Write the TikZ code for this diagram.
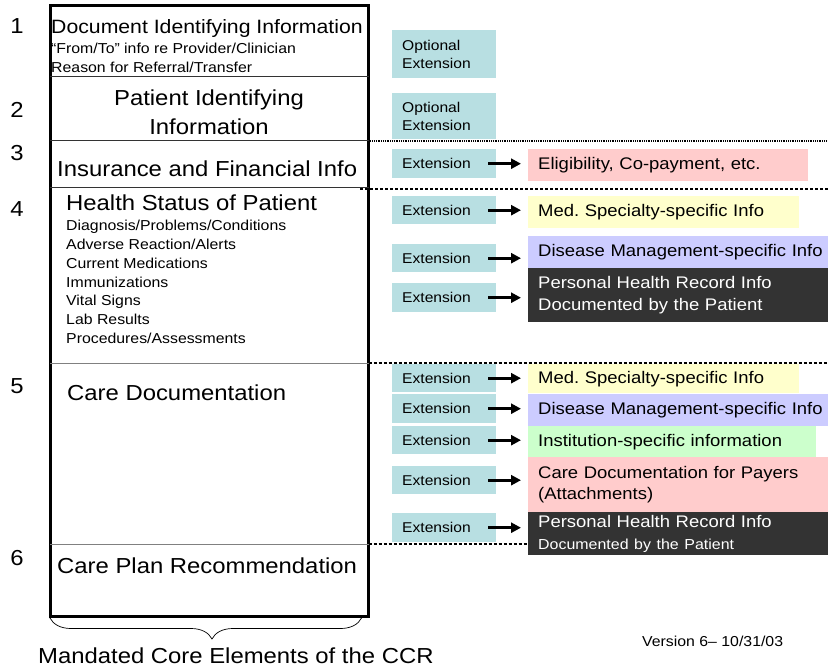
\documentclass[tikz,border=0pt]{standalone}
\usepackage{fontspec}
\setmainfont[FakeStretch=1.1]{Liberation Sans}
\usetikzlibrary{arrows.meta,decorations.pathreplacing}

\definecolor{extteal}{RGB}{184,223,226}
\definecolor{boxpink}{RGB}{255,204,204}
\definecolor{boxyellow}{RGB}{255,255,204}
\definecolor{boxpurple}{RGB}{204,204,255}
\definecolor{boxgreen}{RGB}{204,255,204}
\definecolor{boxdark}{RGB}{51,51,51}

\newcommand\fBig{\fontsize{21.7}{26}\selectfont}
\newcommand\fHead{\fontsize{19.3}{23}\selectfont}
\newcommand\fSmall{\fontsize{14.4}{18.8}\selectfont}
\newcommand\fBox{\fontsize{16.8}{21.5}\selectfont}
\newcommand\fBoxSmall{\fontsize{14.5}{19}\selectfont}
\newcommand\fExt{\fontsize{14.2}{18.5}\selectfont}

\tikzset{
  txt/.style={inner sep=0pt, anchor=base west},
  numlabel/.style={inner sep=0pt, anchor=base, font=\fBig},
  extbox/.style={fill=extteal, text width=84pt, inner xsep=10pt, inner ysep=0pt,
    anchor=north west, align=left, font=\fExt},
  infobox/.style={anchor=north west, inner xsep=10pt, inner ysep=0pt,
    align=left, font=\fBox},
  darkbox/.style={infobox, fill=boxdark, text=white},
  linkarrow/.style={line width=3pt, shorten >=7pt,
    -{Triangle[length=10pt,width=10pt]}},
  divider/.style={line width=1pt, black!80},
  softdivider/.style={line width=1pt, black!50},
  sepdash/.style={line width=1.1pt, dash pattern=on 3pt off 2pt},
  sepdot/.style={line width=1.1pt, dash pattern=on 1pt off 0.8pt},
}

\begin{document}
\begin{tikzpicture}[x=1pt,y=-1pt]
\useasboundingbox (0,0) rectangle (828,666);

% core element column
\node[draw, line width=3pt, minimum width=318.5pt, minimum height=610pt,
      anchor=north west, inner sep=0pt, outer sep=0pt] (core) at (50,6) {};
\draw[divider] (core.west |- 0,77) -- (core.east |- 0,77);
\draw[divider] (core.west |- 0,141) -- (core.east |- 0,141);
\draw[divider] (core.west |- 0,188) -- (core.east |- 0,188);
\draw[softdivider] (core.west |- 0,363) -- (core.east |- 0,363);
\draw[softdivider] (core.west |- 0,544) -- (core.east |- 0,544);

% section numbers
\node[numlabel] (n1) at (17,33.3) {1};
\node[numlabel] (n2) at (17,118) {2};
\node[numlabel] (n3) at (17,161) {3};
\node[numlabel] (n4) at (17,216.7) {4};
\node[numlabel] (n5) at (17,393) {5};
\node[numlabel] (n6) at (17,565) {6};

% section texts
\node[txt, font=\fHead] (doc) at (51,33.3) {Document Identifying Information};
\node[txt, font=\fSmall] (doca) at (51,53.3) {“From/To” info re Provider/Clinician};
\node[txt, font=\fSmall] (docb) at (51,72.7) {Reason for Referral/Transfer};

\node[inner sep=0pt, anchor=base, font=\fBig] (pat1) at (209,106) {Patient Identifying};
\node[inner sep=0pt, anchor=base, font=\fBig] (pat2) at (209,135) {Information};

\node[txt, font=\fBig] (ins) at (57,176.7) {Insurance and Financial Info};

\node[txt, font=\fBig] (hs) at (66,210.7) {Health Status of Patient};
\foreach \t [count=\i from 0] in {Diagnosis/Problems/Conditions,
    Adverse Reaction/Alerts, Current Medications, Immunizations,
    Vital Signs, Lab Results, Procedures/Assessments}
  \node[txt, font=\fSmall] (hs\i) at (66,230.6+18.83*\i) {\t};

\node[txt, font=\fBig] (cd) at (67,400) {Care Documentation};
\node[txt, font=\fBig] (cp) at (57,573) {Care Plan Recommendation};

% brace and caption
\draw[decorate, decoration={brace, mirror, amplitude=21pt, aspect=0.52},
      line width=0.7pt] ([yshift=-2pt]core.south west) -- ([xshift=-7pt,yshift=-2pt]core.south east);
\node[txt, font=\fBig] (cap) at (38,663) {Mandated Core Elements of the CCR};
\node[txt, font=\fSmall] (ver) at (642,646) {Version 6– 10/31/03};

% section separators on the extension side
\draw[sepdot] (core.east |- 0,141) -- (828,141);
\draw[sepdash] (360,189) -- (828,189);
\draw[sepdash] (core.east |- 0,363) -- (828,363);
\draw[sepdash] (core.east |- 0,544) -- (528,544);

% extension boxes
\node[extbox, minimum height=48pt] (o1) at (392,30) {Optional\\Extension};
\node[extbox, minimum height=46pt] (o2) at (392,93) {Optional\\Extension};
\node[extbox, minimum height=29pt] (e3)  at (392,149) {Extension};
\node[extbox, minimum height=28pt] (e4a) at (392,196) {Extension};
\node[extbox, minimum height=28pt] (e4b) at (392,244) {Extension};
\node[extbox, minimum height=29pt] (e4c) at (392,283) {Extension};
\node[extbox, minimum height=28pt] (e5a) at (392,364) {Extension};
\node[extbox, minimum height=29pt] (e5b) at (392,394) {Extension};
\node[extbox, minimum height=28pt] (e5c) at (392,426) {Extension};
\node[extbox, minimum height=28pt] (e5d) at (392,466) {Extension};
\node[extbox, minimum height=29pt] (e5e) at (392,513) {Extension};

% specific information boxes (the widest ones run off the right edge)
\node[infobox, fill=boxpink, text width=260pt, minimum height=32pt] (t3) at (528,149)
  {Eligibility, Co-payment, etc.};
\node[infobox, fill=boxyellow, text width=251pt, minimum height=32pt] (t4a) at (528,196)
  {Med.\ Specialty-specific Info};
\node[infobox, fill=boxpurple, text width=300pt, minimum height=32pt] (t4b) at (528,236)
  {Disease Management-specific Info};
\node[darkbox, text width=300pt, minimum height=54pt] (t4c) at (528,268)
  {Personal Health Record Info\\Documented by the Patient};
\node[infobox, fill=boxyellow, text width=251pt, minimum height=29pt] (t5a) at (528,364)
  {Med.\ Specialty-specific Info};
\node[infobox, fill=boxpurple, text width=300pt, minimum height=32pt] (t5b) at (528,394)
  {Disease Management-specific Info};
\node[infobox, fill=boxgreen, text width=268pt, minimum height=31pt] (t5c) at (528,426)
  {Institution-specific information};
\node[infobox, fill=boxpink, text width=300pt, minimum height=55pt] (t5d) at (528,457)
  {Care Documentation for Payers\\(Attachments)};
\node[darkbox, text width=300pt, minimum height=43pt] (t5e) at (528,512)
  {Personal Health Record Info\\{\fBoxSmall Documented by the Patient}};

% links from extensions to specific information
\foreach \s/\t in {e3/t3, e4a/t4a, e4b/t4b, e4c/t4c, e5a/t5a, e5b/t5b,
                   e5c/t5c, e5d/t5d, e5e/t5e}
  \draw[linkarrow] ([xshift=-8pt]\s.east) -- (\s.east -| \t.west);
\end{tikzpicture}
\end{document}
